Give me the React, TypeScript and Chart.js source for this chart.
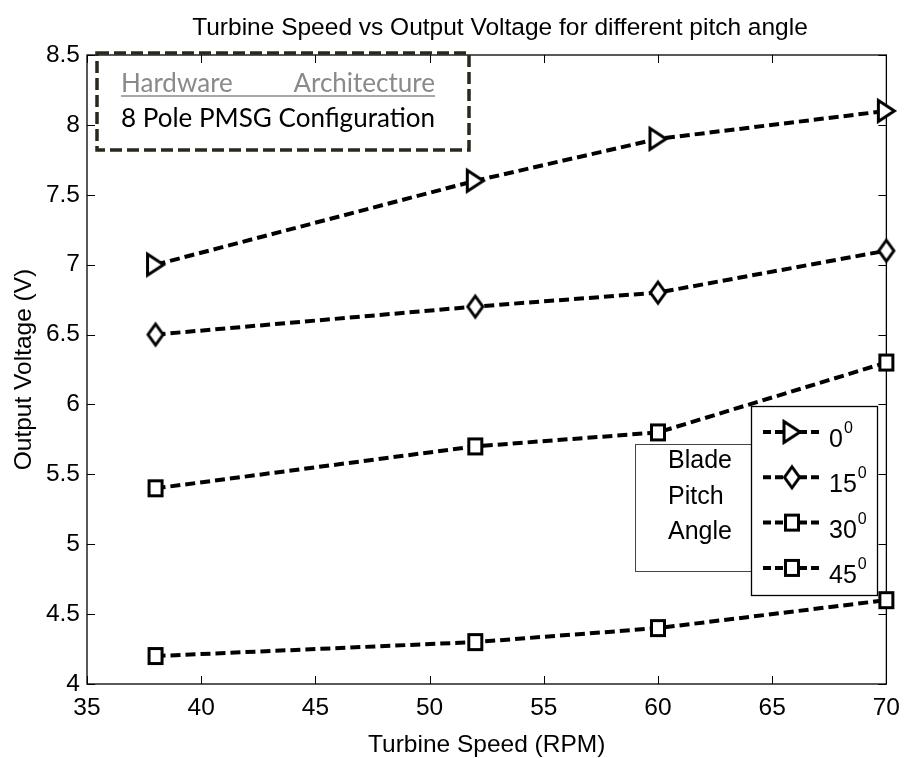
import React, { useEffect, useRef } from "react";
import { Chart, registerables } from "chart.js";

Chart.register(...registerables);

// ---- data ----
const speeds = [38, 52, 60, 70];
const pitch0 = [7.0, 7.6, 7.9, 8.1];
const pitch15 = [6.5, 6.7, 6.8, 7.1];
const pitch30 = [5.4, 5.7, 5.8, 6.3];
const pitch45 = [4.2, 4.3, 4.4, 4.6];
const pitchLabels = ["0", "15", "30", "45"];
const markerShapes = ["tri", "dia", "sq", "sq"];

const chartTitle = "Turbine Speed vs Output Voltage for different pitch angle";
const xTitle = "Turbine Speed (RPM)";
const yTitle = "Output Voltage (V)";
const noteHeadLeft = "Hardware";
const noteHeadRight = "Architecture";
const noteLine = "8 Pole PMSG Configuration";
const legendTitleLines = ["Blade", "Pitch", "Angle"];

const ARIAL = "'Liberation Sans', Arial, sans-serif";
const CALIBRI = "Lato, 'Open Sans', sans-serif";

function makeMarker(shape: string): HTMLCanvasElement {
  const dims: Record<string, [number, number]> = {
    tri: [19, 24],
    dia: [18, 24],
    sq: [16, 18],
  };
  const [w, h] = dims[shape];
  const pad = 3;
  const c = document.createElement("canvas");
  c.width = w + pad * 2;
  c.height = h + pad * 2;
  const ctx = c.getContext("2d")!;
  ctx.lineWidth = 3;
  ctx.strokeStyle = "#000";
  ctx.fillStyle = "#fff";
  ctx.lineJoin = "miter";
  const x0 = pad + 1.5, y0 = pad + 1.5, x1 = pad + w - 1.5, y1 = pad + h - 1.5;
  const cx = (x0 + x1) / 2, cy = (y0 + y1) / 2;
  ctx.beginPath();
  if (shape === "tri") {
    ctx.moveTo(x0, y0);
    ctx.lineTo(x1, cy);
    ctx.lineTo(x0, y1);
    ctx.closePath();
  } else if (shape === "dia") {
    ctx.moveTo(cx, y0);
    ctx.lineTo(x1, cy);
    ctx.lineTo(cx, y1);
    ctx.lineTo(x0, cy);
    ctx.closePath();
  } else {
    ctx.rect(x0, y0, x1 - x0, y1 - y0);
  }
  ctx.fill();
  ctx.stroke();
  return c;
}

export default function App() {
  const ref = useRef<HTMLCanvasElement | null>(null);

  useEffect(() => {
    const canvas = ref.current;
    if (!canvas) return;
    const markers = markerShapes.map(makeMarker);
    const series = [pitch0, pitch15, pitch30, pitch45];

    const decorPlugin = {
      id: "decor",
      beforeDatasetsDraw(chart: any) {
        const { ctx, chartArea: a, scales } = chart;
        ctx.save();
        ctx.strokeStyle = "#000";
        ctx.lineWidth = 1.3;
        ctx.strokeRect(a.left, a.top, a.right - a.left, a.bottom - a.top);
        ctx.lineWidth = 1;
        const tl = 8;
        scales.x.ticks.forEach((t: any) => {
          const px = Math.round(scales.x.getPixelForValue(t.value)) + 0.5;
          ctx.beginPath();
          ctx.moveTo(px, a.bottom);
          ctx.lineTo(px, a.bottom - tl);
          ctx.moveTo(px, a.top);
          ctx.lineTo(px, a.top + tl);
          ctx.stroke();
        });
        scales.y.ticks.forEach((t: any) => {
          const py = Math.round(scales.y.getPixelForValue(t.value)) + 0.5;
          ctx.beginPath();
          ctx.moveTo(a.left, py);
          ctx.lineTo(a.left + tl, py);
          ctx.moveTo(a.right, py);
          ctx.lineTo(a.right - tl, py);
          ctx.stroke();
        });
        ctx.restore();
      },
      afterDraw(chart: any) {
        const { ctx, chartArea: a } = chart;
        ctx.save();
        ctx.fillStyle = "#000";
        // title
        ctx.font = `24.5px ${ARIAL}`;
        ctx.textAlign = "center";
        ctx.textBaseline = "alphabetic";
        ctx.fillText(chartTitle, 500, 35);
        // x title
        ctx.fillText(xTitle, (a.left + a.right) / 2, 752);
        // y title
        ctx.save();
        ctx.translate(31, (a.top + a.bottom) / 2);
        ctx.rotate(-Math.PI / 2);
        ctx.fillText(yTitle, 0, 0);
        ctx.restore();

        // annotation box
        ctx.save();
        ctx.strokeStyle = "#29281c";
        ctx.lineWidth = 3.5;
        ctx.setLineDash([12, 5]);
        ctx.strokeRect(97, 53, 372, 97);
        ctx.restore();
        // fit font to width
        ctx.font = `100px ${CALIBRI}`;
        const targetW = 314;
        const size = (100 * targetW) / ctx.measureText(noteLine).width;
        ctx.font = `${size}px ${CALIBRI}`;
        ctx.textAlign = "left";
        ctx.fillStyle = "#000";
        ctx.fillText(noteLine, 121, 127);
        ctx.fillStyle = "#8a8a8a";
        ctx.fillText(noteHeadLeft, 121, 92);
        ctx.textAlign = "right";
        ctx.fillText(noteHeadRight, 121 + targetW, 92);
        ctx.strokeStyle = "#8a8a8a";
        ctx.lineWidth = 1.5;
        ctx.beginPath();
        ctx.moveTo(121, 96);
        ctx.lineTo(121 + targetW, 96);
        ctx.stroke();

        // legend title box
        ctx.fillStyle = "#fff";
        ctx.fillRect(635, 444, 116, 127);
        ctx.strokeStyle = "#444";
        ctx.lineWidth = 1;
        ctx.strokeRect(635.5, 444.5, 116, 127);
        ctx.fillStyle = "#000";
        ctx.font = `25px ${ARIAL}`;
        ctx.textAlign = "left";
        legendTitleLines.forEach((s, i) => ctx.fillText(s, 668, 468 + i * 35.5));

        // legend box
        ctx.fillStyle = "#fff";
        ctx.fillRect(751, 406, 126, 189);
        ctx.strokeStyle = "#000";
        ctx.lineWidth = 1.3;
        ctx.strokeRect(751.5, 406.5, 126, 189);
        chart.data.datasets.forEach((ds: any, i: number) => {
          const y = 432 + i * 45.3;
          ctx.save();
          ctx.strokeStyle = "#000";
          ctx.lineWidth = 4;
          ctx.setLineDash([8, 4]);
          ctx.beginPath();
          ctx.moveTo(763, y);
          ctx.lineTo(821, y);
          ctx.stroke();
          ctx.restore();
          const m = ds.pointStyle as HTMLCanvasElement;
          ctx.drawImage(m, 792 - m.width / 2, y - m.height / 2);
          ctx.fillStyle = "#000";
          ctx.font = `25px ${ARIAL}`;
          ctx.textAlign = "left";
          ctx.fillText(ds.label, 829, y + 15);
          const w = ctx.measureText(ds.label).width;
          ctx.font = `16px ${ARIAL}`;
          ctx.fillText("0", 829 + w + 1, y + 1);
        });
        ctx.restore();
      },
    };

    const chart = new Chart(canvas, {
      type: "line",
      data: {
        datasets: series.map((vals, i) => ({
          label: pitchLabels[i],
          data: speeds.map((s, j) => ({ x: s, y: vals[j] })),
          borderColor: "#000",
          backgroundColor: "#fff",
          borderWidth: 4,
          borderDash: [10, 5],
          pointStyle: markers[i],
          pointRadius: 10,
          pointHoverRadius: 10,
          fill: false,
          tension: 0,
          clip: false as any,
        })),
      },
      options: {
        animation: false,
        responsive: false,
        events: [],
        layout: { padding: { top: 55, right: 16, left: 0, bottom: 0 } },
        plugins: {
          legend: { display: false },
          title: { display: false },
          tooltip: { enabled: false },
        },
        scales: {
          x: {
            type: "linear",
            min: 35,
            max: 70,
            afterFit: (s: any) => {
              s.height = 74;
            },
            grid: { display: false, drawTicks: false },
            border: { display: false },
            ticks: {
              stepSize: 5,
              color: "#000",
              font: { family: ARIAL, size: 24.5 },
              padding: 10,
              maxRotation: 0,
              autoSkip: false,
              callback: (v: any) => String(Number(v)),
            },
          },
          y: {
            type: "linear",
            min: 4,
            max: 8.5,
            afterFit: (s: any) => {
              s.width = 87;
            },
            grid: { display: false, drawTicks: false },
            border: { display: false },
            ticks: {
              stepSize: 0.5,
              color: "#000",
              font: { family: ARIAL, size: 24.5 },
              padding: 7,
              autoSkip: false,
              callback: (v: any) => String(Math.round(Number(v) * 10) / 10),
            },
          },
        },
      },
      plugins: [decorPlugin],
    } as any);

    let alive = true;
    if ((document as any).fonts) {
      Promise.all([
        (document as any).fonts.load(`24px 'Liberation Sans'`),
        (document as any).fonts.load(`24px Lato`),
      ])
        .then(() => {
          if (alive) chart.update();
        })
        .catch(() => {});
    }

    return () => {
      alive = false;
      chart.destroy();
    };
  }, []);

  return (
    <div style={{ position: "absolute", left: 0, top: 0, width: 910, height: 758, background: "#fff" }}>
      <canvas ref={ref} width={910} height={758} style={{ display: "block" }} />
    </div>
  );
}
